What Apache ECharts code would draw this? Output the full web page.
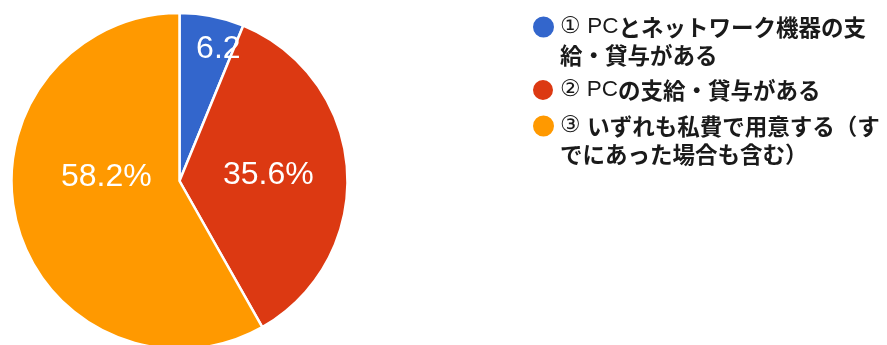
<!DOCTYPE html>
<html>
<head>
<meta charset="utf-8">
<script src="https://cdn.jsdelivr.net/npm/echarts@6/dist/echarts.min.js"></script>
<style>
  html, body { margin: 0; padding: 0; background: #fff; }
  #chart { width: 887px; height: 345px; }
</style>
</head>
<body>
<div id="chart"></div>
<script>
// Survey answers: how PCs and network equipment are provided
const categories = [
  '① PCとネットワーク機器の支給・貸与がある',
  '② PCの支給・貸与がある',
  '③ いずれも私費で用意する（すでにあった場合も含む）'
];
const shares = [6.2, 35.6, 58.2];
// The narrow first slice shows its number without the percent sign
const showPercentSign = [false, true, true];

const colors = ['#3366cc', '#dc3912', '#ff9900'];
const labelOffsets = [[22, -46], [2, 0], [11, -26]];
const legendLineChars = 15;

const chart = echarts.init(document.getElementById('chart'), null, { renderer: 'canvas' });

const pieData = categories.map((name, i) => ({
  name: name,
  value: shares[i],
  itemStyle: { color: colors[i] },
  label: { offset: labelOffsets[i] }
}));

// Legend text: wrap long answers and keep the numbering / "PC" in a plain face
function legendText(name) {
  const lines = [];
  for (let i = 0; i < name.length; i += legendLineChars) {
    lines.push(name.slice(i, i + legendLineChars));
  }
  return lines.map((line) => {
    const m = line.match(/^[①②③]\s?(PC)?/);
    const head = m ? m[0] : '';
    const rest = line.slice(head.length);
    return (head ? '{lat|' + head + '}' : '') + (rest ? '{jp|' + rest + '}' : '');
  }).join('\n');
}

// Circle drawn in the top of a taller box so it sits beside the first text line
const topCircleIcon = 'path://M11.5 0Z M0 14A11.5 11.5 0 1 1 23 14A11.5 11.5 0 1 1 0 14Z M11.5 56Z';

const legendTops = [12, 76, 111];
const legends = categories.map((name, i) => {
  const twoLines = name.length > legendLineChars;
  return {
    show: true,
    orient: 'vertical',
    left: 531,
    top: legendTops[i],
    padding: 0,
    icon: twoLines ? topCircleIcon : 'circle',
    itemWidth: 23,
    itemHeight: twoLines ? 56 : 22,
    selectedMode: false,
    data: [{ name: name }],
    formatter: legendText,
    textStyle: {
      color: '#1a1a1a',
      fontSize: 22.5,
      lineHeight: 28,
      rich: {
        lat: {
          fontFamily: '"Liberation Sans", Arial, sans-serif',
          fontWeight: 'normal',
          fontSize: 22.5,
          lineHeight: 28,
          color: '#1a1a1a'
        },
        jp: {
          fontFamily: '"Noto Sans CJK JP", sans-serif',
          fontWeight: 'bold',
          fontSize: 22.5,
          lineHeight: 28,
          color: '#1a1a1a'
        }
      }
    }
  };
});

chart.setOption({
  animation: false,
  backgroundColor: '#ffffff',
  legend: legends,
  series: [{
    type: 'pie',
    center: [179.5, 181],
    radius: 168,
    startAngle: 90,
    clockwise: true,
    silent: true,
    data: pieData,
    itemStyle: { borderColor: '#ffffff', borderWidth: 2.5 },
    labelLine: { show: false },
    label: {
      show: true,
      position: 'inside',
      color: '#ffffff',
      fontFamily: '"Liberation Sans", Arial, sans-serif',
      fontSize: 32,
      formatter: (p) => p.value + (showPercentSign[p.dataIndex] ? '%' : '')
    }
  }]
});
</script>
</body>
</html>
